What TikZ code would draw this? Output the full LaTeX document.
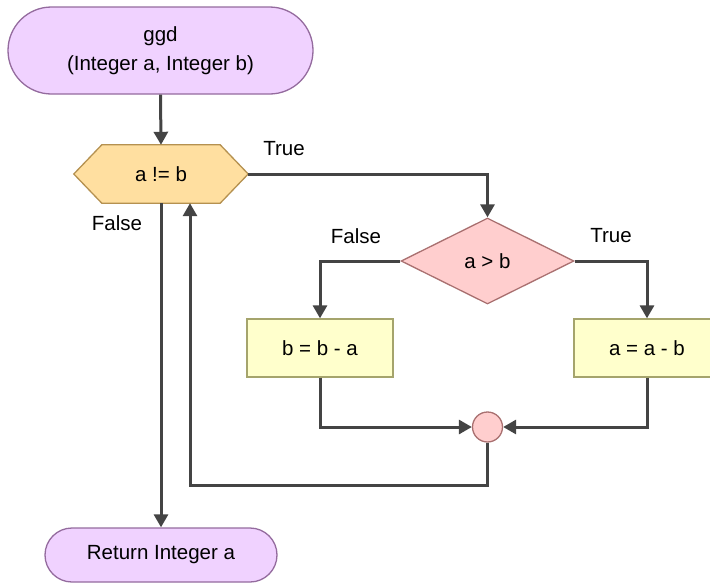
\documentclass[tikz,border=0pt]{standalone}
\usepackage{fontspec}
\setmainfont{Liberation Sans}
\usetikzlibrary{arrows.meta,shapes.geometric,backgrounds}

\definecolor{termfill}{HTML}{F0D2FF}
\definecolor{termline}{HTML}{946B9E}
\definecolor{hexfill}{HTML}{FFDFA0}
\definecolor{hexline}{HTML}{B59150}
\definecolor{diafill}{HTML}{FFCECE}
\definecolor{dialine}{HTML}{A97070}
\definecolor{boxfill}{HTML}{FFFFCC}
\definecolor{boxline}{HTML}{A5A46C}
\definecolor{wire}{HTML}{444444}

\tikzset{
  every node/.style={font=\fontsize{20.5}{29}\selectfont, inner sep=0pt},
  terminal/.style={draw=termline, fill=termfill, line width=1.3pt, align=center},
  hexslot/.style={minimum width=174pt, minimum height=58pt},
  hexshape/.style={draw=hexline, fill=hexfill, line width=1.3pt},
  decision/.style={diamond, draw=dialine, fill=diafill, line width=1.3pt,
    minimum width=173pt, minimum height=86pt, aspect=2},
  process/.style={rectangle, draw=boxline, fill=boxfill, line width=1.3pt,
    minimum width=146pt, minimum height=58pt},
  junction/.style={circle, draw=dialine, fill=diafill, line width=1.3pt,
    minimum size=30pt},
  flow/.style={draw=wire, line width=3pt,
    -{Triangle[length=13pt,width=14pt]}},
  lbl/.style={text=black}
}

\begin{document}
\begin{tikzpicture}[x=1pt, y=-1pt]
  \useasboundingbox (0,0) rectangle (710,584);

  % start and end terminals
  \node[terminal, minimum width=305pt, minimum height=87pt,
        rounded corners=43.5pt] (start) at (160.5,50.5)
        {ggd\\(Integer a, Integer b)};
  \node[terminal, minimum width=232pt, minimum height=54pt,
        rounded corners=27pt] (ret) at (161,555) {Return Integer a};

  % loop condition (hexagon)
  \node[hexslot] (cond) at (161,174) {a != b};
  \begin{scope}[on background layer]
    \path[hexshape] (cond.west) -- ([xshift=28pt]cond.north west)
      -- ([xshift=-28pt]cond.north east) -- (cond.east)
      -- ([xshift=-28pt]cond.south east) -- ([xshift=28pt]cond.south west)
      -- cycle;
  \end{scope}

  % inner decision and branches
  \node[decision] (cmp) at (487.5,261) {a > b};
  \node[process] (bsub) at (320,348) {b = b - a};
  \node[process] (asub) at (647,348) {a = a - b};
  \node[junction] (join) at (487.5,427) {};

  % labels
  \node[lbl] (ltrue1) at (284,149) {True};
  \node[lbl] (lfalse1) at (117,223) {False};
  \node[lbl] (lfalse2) at (356,236) {False};
  \node[lbl] (ltrue2) at (611,236) {True};

  % connectors
  \draw[flow] (start.south) -- (cond.north);
  \draw[flow] (cond.east) -| (cmp.north);
  \draw[flow] (cmp.west) -| (bsub.north);
  \draw[flow] (cmp.east) -| (asub.north);
  \draw[flow] (bsub.south) |- (join.west);
  \draw[flow] (asub.south) |- (join.east);
  \coordinate (back) at ([xshift=29pt]cond.south);
  \draw[flow] (join.south) -- ++(0,43) -| (back);
  \draw[flow] (cond.south) -- (ret.north);
\end{tikzpicture}
\end{document}
